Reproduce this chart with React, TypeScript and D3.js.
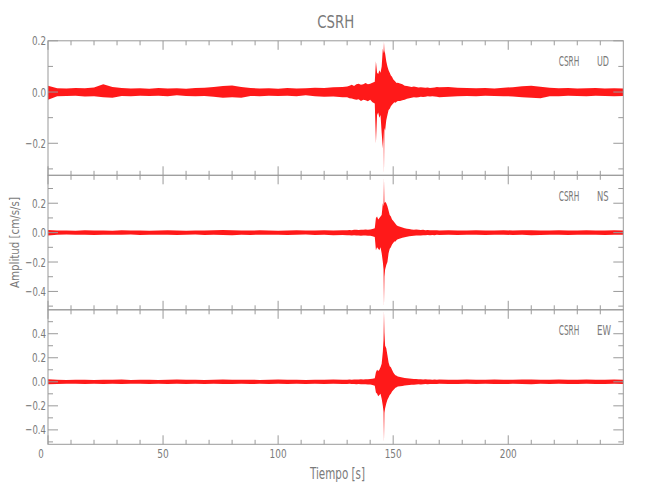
import React from 'react';
import * as d3 from 'd3';

const STATION = 'CSRH';
const COMPONENTS = ['UD', 'NS', 'EW'];

// time knots (s)
const T = [
  0, 4, 8, 12, 16, 20, 24, 28, 32, 36, 40, 44, 48, 52, 56, 60, 64, 68, 72, 76, 80, 84, 88, 92, 96, 100, 104, 108, 112, 116, 120, 124, 128,
  130, 131, 132, 133, 134, 135, 136, 137, 138, 139, 140, 141,
  142, 142.5, 143, 143.5, 144, 144.5, 145, 145.5, 145.8, 146, 146.2, 146.5, 147, 147.5, 148, 148.5, 149, 149.5, 150, 150.5, 151, 151.5, 152,
  153, 154, 155, 156, 157, 158, 159, 160, 161, 162, 163, 164, 165, 166, 167, 168, 169, 170,
  174, 178, 182, 186, 190, 194, 198, 202, 206, 210, 214, 218, 222, 226, 230, 234, 238, 242, 246, 250,
];

// UD envelope (cm/s/s)
const udHi = [
  .025, .015, .014, .016, .015, .018, .03, .02, .016, .014, .015, .013, .016, .014, .015, .013, .016, .017, .02, .024, .026, .02, .016, .014, .015, .013, .016, .014, .015, .017, .016, .019, .02,
  .022, .025, .028, .024, .03, .032, .028, .03, .035, .03, .032, .036,
  .04, .12, .075, .07, .085, .075, .1, .17, .15, .195, .16, .15, .12, .1, .085, .075, .065, .06, .05, .045, .04, .035, .036,
  .033, .03, .025, .024, .022, .02, .022, .02, .018, .019, .018, .017, .018, .016, .017, .018, .02, .019,
  .02, .017, .016, .015, .016, .014, .017, .019, .023, .025, .021, .017, .015, .016, .014, .015, .016, .014, .015, .014,
];
const udLo = [
  -.03, -.016, -.015, -.014, -.017, -.016, -.02, -.022, -.015, -.016, -.014, -.015, -.014, -.016, -.013, -.015, -.016, -.015, -.018, -.022, -.02, -.022, -.015, -.016, -.014, -.015, -.014, -.016, -.013, -.016, -.018, -.017, -.02,
  -.02, -.024, -.025, -.028, -.03, -.028, -.035, -.03, -.032, -.036, -.03, -.04,
  -.045, -.2, -.09, -.08, -.1, -.09, -.16, -.22, -.15, -.32, -.14, -.15, -.11, -.09, -.07, -.065, -.055, -.05, -.045, -.04, -.042, -.038, -.035,
  -.035, -.032, -.03, -.026, -.024, -.022, -.02, -.021, -.02, -.018, -.019, -.018, -.016, -.017, -.016, -.017, -.018, -.02,
  -.018, -.016, -.015, -.016, -.014, -.015, -.016, -.017, -.02, -.022, -.024, -.016, -.016, -.014, -.015, -.016, -.014, -.015, -.016, -.015,
];

// NS envelope
const nsHi = [
  .018, .014, .015, .013, .016, .014, .015, .013, .016, .014, .015, .013, .014, .016, .015, .013, .015, .014, .016, .018, .017, .015, .014, .016, .015, .013, .015, .016, .014, .015, .016, .015, .017,
  .017, .018, .016, .019, .02, .018, .02, .019, .021, .02, .022, .024,
  .03, .1, .11, .09, .1, .11, .12, .2, .18, .37, .2, .21, .2, .18, .15, .12, .11, .09, .08, .07, .06, .05, .045,
  .04, .035, .03, .027, .025, .022, .02, .021, .019, .018, .019, .017, .018, .016, .017, .016, .017, .015,
  .016, .015, .014, .016, .015, .014, .016, .015, .017, .016, .015, .014, .016, .015, .014, .016, .015, .014, .016, .015,
];
const nsLo = [
  -.02, -.015, -.013, -.015, -.014, -.016, -.015, -.014, -.015, -.013, -.016, -.014, -.015, -.014, -.016, -.014, -.013, -.016, -.015, -.016, -.018, -.015, -.016, -.014, -.015, -.014, -.016, -.015, -.013, -.016, -.015, -.017, -.016,
  -.018, -.017, -.019, -.018, -.02, -.019, -.021, -.02, -.019, -.022, -.021, -.025,
  -.03, -.12, -.1, -.11, -.12, -.1, -.14, -.2, -.25, -.5, -.3, -.25, -.22, -.2, -.14, -.11, -.1, -.08, -.07, -.06, -.06, -.05, -.045,
  -.04, -.035, -.032, -.028, -.024, -.023, -.021, -.019, -.02, -.019, -.017, -.018, -.016, -.017, -.016, -.017, -.015, -.016,
  -.015, -.016, -.015, -.014, -.016, -.015, -.014, -.016, -.015, -.017, -.016, -.015, -.014, -.016, -.015, -.015, -.014, -.016, -.015, -.014,
];

// EW envelope
const ewHi = [
  .022, .017, .016, .018, .017, .016, .018, .017, .019, .016, .018, .017, .016, .018, .019, .017, .018, .016, .017, .019, .018, .017, .018, .016, .017, .019, .018, .017, .016, .018, .017, .019, .018,
  .018, .019, .017, .02, .019, .02, .021, .02, .022, .021, .023, .025,
  .03, .08, .1, .09, .1, .12, .15, .25, .35, .59, .41, .3, .28, .22, .16, .13, .12, .1, .08, .065, .055, .05, .045,
  .04, .036, .032, .03, .028, .026, .024, .023, .022, .021, .02, .021, .019, .02, .018, .019, .018, .019,
  .018, .017, .019, .018, .017, .019, .018, .017, .02, .019, .018, .017, .019, .018, .017, .019, .018, .017, .019, .018,
];
const ewLo = [
  -.02, -.018, -.017, -.016, -.018, -.017, -.019, -.016, -.018, -.017, -.016, -.018, -.017, -.019, -.017, -.018, -.016, -.018, -.017, -.018, -.019, -.016, -.018, -.017, -.019, -.017, -.018, -.016, -.018, -.017, -.018, -.017, -.019,
  -.018, -.017, -.019, -.018, -.02, -.019, -.02, -.021, -.02, -.023, -.022, -.026,
  -.032, -.09, -.1, -.12, -.11, -.1, -.14, -.2, -.25, -.5, -.26, -.22, -.18, -.15, -.13, -.11, -.1, -.08, -.07, -.06, -.05, -.045, -.04,
  -.038, -.035, -.03, -.028, -.027, -.025, -.025, -.022, -.021, -.022, -.02, -.019, -.02, -.018, -.019, -.018, -.019, -.017,
  -.018, -.019, -.017, -.018, -.016, -.018, -.019, -.017, -.018, -.02, -.017, -.018, -.017, -.019, -.018, -.017, -.018, -.019, -.017, -.018,
];

const Y_RANGES: [number, number][] = [[-0.325, 0.2], [-0.525, 0.39], [-0.52, 0.599]];
const X_DOMAIN: [number, number] = [0, 250];
const X_LABELS = [0, 50, 100, 150, 200];

const FONT = "'Liberation Sans Narrow', 'DejaVu Sans Condensed', 'Liberation Sans', sans-serif";
const AXIS = '#9a9a9a';
const TXT = '#7a7a7a';

const LEFT = 48;
const RIGHT = 623.3;
const TOP = 40.8;
const PH = 134.5;

export default function App() {
  const x = d3.scaleLinear().domain(X_DOMAIN).range([LEFT, RIGHT]);
  const xTicks = d3.range(0, 250, 10);
  const fmt = d3.format('.1f');
  const series = [
    { hi: udHi, lo: udLo },
    { hi: nsHi, lo: nsLo },
    { hi: ewHi, lo: ewLo },
  ];

  return (
    <svg width={650} height={500} style={{ position: 'absolute', left: 0, top: 0, background: '#fff' }}>
      <rect x={0} y={0} width={650} height={500} fill="#fff" />
      <text x={(LEFT + RIGHT) / 2} y={28} textAnchor="middle" fontFamily={FONT} fontSize={18} fill={TXT}
        textLength={37} lengthAdjust="spacingAndGlyphs">{STATION}</text>
      {series.map((s, i) => {
        const y0 = TOP + i * PH;
        const y1 = y0 + PH;
        const [dmin, dmax] = Y_RANGES[i];
        const y = d3.scaleLinear().domain([dmin, dmax]).range([y1, y0]);
        const area = d3.area<number>()
          .x((t) => x(t))
          .y0((_, j) => y(s.lo[j]))
          .y1((_, j) => y(s.hi[j]));
        const yT: number[] = [];
        for (let k = Math.ceil(dmin * 10 - 1e-6); k <= Math.floor(dmax * 10 + 1e-6); k++) yT.push(k);
        const compW = COMPONENTS[i] === 'EW' ? 14 : COMPONENTS[i] === 'NS' ? 11.6 : 12;
        return (
          <g key={i}>
            <defs>
              <clipPath id={`clip${i}`}>
                <rect x={LEFT} y={y0} width={RIGHT - LEFT} height={PH} />
              </clipPath>
            </defs>
            <g clipPath={`url(#clip${i})`}>
              <path d={area(T) || ''} fill="#ff0000" fillOpacity={0.9} stroke="none" />
            </g>
            <rect x={LEFT} y={y0} width={RIGHT - LEFT} height={PH} fill="none" stroke={AXIS} strokeWidth={1} />
            {xTicks.map((t) => {
              const major = t % 50 === 0;
              const len = major ? 9 : 4.5;
              const xx = x(t);
              return (
                <g key={t}>
                  <line x1={xx} x2={xx} y1={y0} y2={y0 + len} stroke={AXIS} />
                  <line x1={xx} x2={xx} y1={y1} y2={y1 - len} stroke={AXIS} />
                </g>
              );
            })}
            {yT.map((k) => {
              const v = k / 10;
              const major = k % 2 === 0;
              const len = major ? 10 : 5;
              const yy = y(v);
              const label = fmt(v);
              return (
                <g key={k}>
                  <line x1={LEFT} x2={LEFT + len} y1={yy} y2={yy} stroke={AXIS} />
                  <line x1={RIGHT} x2={RIGHT - len} y1={yy} y2={yy} stroke={AXIS} />
                  {major && (
                    <text x={46} y={yy + 4.6} textAnchor="end" fontFamily={FONT} fontSize={13} fill={TXT}
                      textLength={v < 0 ? 20.7 : 14} lengthAdjust="spacingAndGlyphs">{label}</text>
                  )}
                </g>
              );
            })}
            <text x={558.7} y={y0 + 25.5} fontFamily={FONT} fontSize={14} fill={TXT}
              textLength={20.7} lengthAdjust="spacingAndGlyphs">{STATION}</text>
            <text x={597} y={y0 + 25.5} fontFamily={FONT} fontSize={14} fill={TXT}
              textLength={compW} lengthAdjust="spacingAndGlyphs">{COMPONENTS[i]}</text>
          </g>
        );
      })}
      {X_LABELS.map((t) => {
        const s = String(t);
        const w = s.length === 1 ? 5.5 : s.length === 2 ? 11.5 : 17;
        return (
          <text key={t} x={x(t) + (t === 0 ? -7 : 0)} y={458.3} textAnchor="middle" fontFamily={FONT} fontSize={13}
            fill={TXT} textLength={w} lengthAdjust="spacingAndGlyphs">{s}</text>
        );
      })}
      <text x={337.5} y={479} textAnchor="middle" fontFamily={FONT} fontSize={15} fill={TXT}
        textLength={55} lengthAdjust="spacingAndGlyphs">Tiempo [s]</text>
      <text transform={`translate(18.5, ${TOP + PH * 1.5}) rotate(-90)`} textAnchor="middle" fontFamily={FONT}
        fontSize={13} fill={TXT} textLength={91} lengthAdjust="spacingAndGlyphs">Amplitud [cm/s/s]</text>
    </svg>
  );
}
